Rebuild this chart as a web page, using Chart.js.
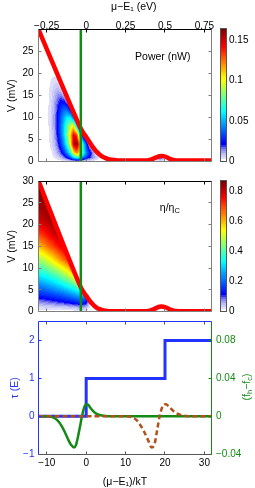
<!DOCTYPE html>
<html>
<head>
<meta charset="utf-8">
<script src="https://cdn.jsdelivr.net/npm/chart.js@4.4.1/dist/chart.umd.min.js"></script>
<style>
  html, body { margin: 0; padding: 0; background: #fff; }
  #wrap { position: relative; width: 255px; height: 488px; }
  canvas { position: absolute; left: 0; top: 0; }
</style>
</head>
<body>
<div id="wrap">
  <canvas id="cPower" width="255" height="488"></canvas>
  <canvas id="cEff" width="255" height="488"></canvas>
  <canvas id="cTrans" width="255" height="488"></canvas>
</div>
<script>
// axes: mu - E1 in eV on top, in units of kT on the bottom panel
const kT = 0.025;
const muMin = -0.3025, muMax = 0.795;
const muTicks = [-0.25, 0, 0.25, 0.5, 0.75];
const vPowerMax = 29.9, vEffMax = 30;
const vPowerTicks = [0, 5, 10, 15, 20, 25];
const vEffTicks = [0, 5, 10, 15, 20, 25, 30];
const greenMu = -0.034;

// red curve (stopping voltage) in the two map panels
const vocPowerMu = [-0.3025, -0.06, -0.04, -0.02, 0.0, 0.02, 0.04, 0.06, 0.08, 0.10, 0.12, 0.14, 0.16, 0.20, 0.25, 0.35, 0.39, 0.41, 0.43, 0.45, 0.465, 0.478, 0.49, 0.51, 0.53, 0.55, 0.57, 0.62, 0.795];
const vocPowerV = [29.9, 9.5, 7.9, 6.6, 5.6, 4.5, 3.4, 2.5, 1.8, 1.2, 0.85, 0.6, 0.45, 0.3, 0.25, 0.25, 0.3, 0.45, 0.75, 1.05, 1.25, 1.3, 1.25, 1.0, 0.65, 0.4, 0.28, 0.25, 0.25];
const vocEffMu = [-0.3025, -0.06, -0.045, -0.032, -0.015, 0.004, 0.025, 0.046, 0.065, 0.088, 0.11, 0.131, 0.17, 0.25, 0.38, 0.41, 0.43, 0.45, 0.465, 0.478, 0.49, 0.51, 0.53, 0.55, 0.57, 0.62, 0.795];
const vocEffV = [30, 7.75, 6.5, 5.45, 4.4, 3.45, 2.4, 1.54, 0.95, 0.55, 0.3, 0.16, 0.1, 0.1, 0.12, 0.3, 0.6, 0.95, 1.15, 1.2, 1.15, 0.9, 0.55, 0.3, 0.15, 0.1, 0.1];

// power map (nW), one column per mu, rows at powerV
const powerMu = [-0.26, -0.24, -0.22, -0.20, -0.18, -0.16, -0.14, -0.12, -0.10, -0.08, -0.06, -0.04, -0.02, 0.00, 0.02, 0.04, 0.06, 0.08, 0.10, 0.12, 0.43, 0.47, 0.51];
const powerV = [0, 1, 2, 4, 6, 8, 10, 12, 14, 16, 18, 20, 22, 24];
const powerCols = [
  [0, 0.0001, 0.0003, 0.0005, 0.0006, 0.0007, 0.0008, 0.0008, 0.0008, 0.0007, 0.0006, 0.0005, 0.0003, 0.0001],
  [0, 0.0005, 0.0009, 0.0016, 0.0021, 0.0024, 0.0025, 0.0025, 0.0023, 0.0020, 0.0016, 0.0011, 0.0006, 0.0001],
  [0, 0.0012, 0.0022, 0.0039, 0.0051, 0.0058, 0.0060, 0.0058, 0.0052, 0.0043, 0.0031, 0.0017, 0.0005, 0],
  [0, 0.0029, 0.0053, 0.0091, 0.0117, 0.0130, 0.0131, 0.0122, 0.0105, 0.0078, 0.0047, 0.0015, 0, 0],
  [0, 0.0056, 0.0105, 0.0177, 0.0222, 0.0241, 0.0237, 0.0208, 0.0165, 0.0105, 0.0044, 0, 0, 0],
  [0, 0.0098, 0.0184, 0.0305, 0.0374, 0.0391, 0.0363, 0.0297, 0.0204, 0.0090, 0, 0, 0, 0],
  [0, 0.0155, 0.0288, 0.0472, 0.0561, 0.0567, 0.0495, 0.0362, 0.0184, 0.0012, 0, 0, 0, 0],
  [0, 0.0243, 0.0443, 0.0702, 0.0810, 0.0761, 0.0599, 0.0340, 0.0065, 0, 0, 0, 0, 0],
  [0, 0.0374, 0.0660, 0.1010, 0.1095, 0.0935, 0.0594, 0.0154, 0, 0, 0, 0, 0, 0],
  [0, 0.0590, 0.1040, 0.1500, 0.1470, 0.1050, 0.0370, 0, 0, 0, 0, 0, 0, 0],
  [0, 0.0720, 0.1210, 0.1630, 0.1350, 0.0600, 0, 0, 0, 0, 0, 0, 0, 0],
  [0, 0.0650, 0.1040, 0.1220, 0.0710, 0, 0, 0, 0, 0, 0, 0, 0, 0],
  [0, 0.0440, 0.0690, 0.0650, 0.0140, 0, 0, 0, 0, 0, 0, 0, 0, 0],
  [0, 0.0300, 0.0440, 0.0310, 0, 0, 0, 0, 0, 0, 0, 0, 0, 0],
  [0, 0.0220, 0.0280, 0.0070, 0, 0, 0, 0, 0, 0, 0, 0, 0, 0],
  [0, 0.0144, 0.0144, 0, 0, 0, 0, 0, 0, 0, 0, 0, 0, 0],
  [0, 0.0090, 0.0043, 0, 0, 0, 0, 0, 0, 0, 0, 0, 0, 0],
  [0, 0.0037, 0, 0, 0, 0, 0, 0, 0, 0, 0, 0, 0, 0],
  [0, 0.0008, 0, 0, 0, 0, 0, 0, 0, 0, 0, 0, 0, 0],
  [0, 0, 0, 0, 0, 0, 0, 0, 0, 0, 0, 0, 0, 0],
  [0, 0, 0, 0, 0, 0, 0, 0, 0, 0, 0, 0, 0, 0],
  [0, 0.0250, 0, 0, 0, 0, 0, 0, 0, 0, 0, 0, 0, 0],
  [0, 0, 0, 0, 0, 0, 0, 0, 0, 0, 0, 0, 0, 0]
];
const powerMax = 0.164;
const powerBarTicks = [0, 0.05, 0.1, 0.15];

// efficiency map (eta / eta_C)
const effMu = [-0.31, -0.27, -0.24, -0.21, -0.18, -0.15, -0.12, -0.09, -0.06, -0.03, 0.00, 0.03];
const effV = [0, 1, 2, 4, 6, 9, 12, 15, 18, 21, 24, 27, 30];
const effCols = [
  [0, 0.027, 0.063, 0.146, 0.220, 0.340, 0.454, 0.586, 0.697, 0.780, 0.827, 0.846, 0.865],
  [0, 0.028, 0.069, 0.155, 0.235, 0.359, 0.486, 0.626, 0.731, 0.806, 0.836, 0.857, 0.865],
  [0, 0.030, 0.076, 0.165, 0.251, 0.381, 0.521, 0.664, 0.764, 0.825, 0.846, 0.865, 0.865],
  [0, 0.032, 0.083, 0.176, 0.269, 0.406, 0.560, 0.698, 0.792, 0.835, 0.858, 0.865, 0.865],
  [0, 0.034, 0.091, 0.188, 0.290, 0.436, 0.606, 0.738, 0.822, 0.846, 0.865, 0.865, 0.865],
  [0, 0.037, 0.100, 0.202, 0.313, 0.474, 0.655, 0.775, 0.833, 0.860, 0.865, 0.865, 0.865],
  [0, 0.040, 0.110, 0.221, 0.340, 0.520, 0.698, 0.811, 0.846, 0.865, 0.865, 0.865, 0.865],
  [0, 0.047, 0.120, 0.243, 0.370, 0.574, 0.748, 0.830, 0.862, 0.865, 0.865, 0.865, 0.865],
  [0, 0.054, 0.132, 0.268, 0.405, 0.637, 0.791, 0.846, 0.865, 0.865, 0.865, 0.865, 0.865],
  [0, 0.062, 0.144, 0.295, 0.443, 0.687, 0.824, 0.860, 0.865, 0.865, 0.865, 0.865, 0.865],
  [0, 0.050, 0.115, 0.240, 0.360, 0.500, 0.600, 0.620, 0.620, 0.620, 0.620, 0.620, 0.620],
  [0, 0, 0, 0, 0, 0, 0, 0, 0, 0, 0, 0, 0]
];
const effMax = 0.865;
const effBarTicks = [0, 0.2, 0.4, 0.6, 0.8];

// bottom panel, energy in kT
const eTicks = [-10, 0, 10, 20, 30];
const tauTicks = [-1, 0, 1, 2];
const dfTicks = [-0.04, 0, 0.04, 0.08];
const tauE = [-12.1, 0, 20, 31.8];
const tauVal = [0, 1, 2, 2];
const dfE = [-12.1, -10, -8.7, -7.4, -6.1, -5.3, -4.5, -3.8, -3.1, -2.6, -1.9, -1.5, -1.1, -0.6, -0.1, 0.4, 1.0, 1.6, 2.3, 3.0, 4.0, 5.0, 6.5, 31.8];
const dfVal = [0, -0.0001, -0.0007, -0.004, -0.0113, -0.018, -0.0253, -0.0306, -0.033, -0.0306, -0.018, -0.0095, -0.0007, 0.0081, 0.0124, 0.0125, 0.0092, 0.0062, 0.0035, 0.0018, 0.0007, 0.0002, 0, 0];
const df2E = [-12.1, 10, 11.1, 12.8, 14.5, 15.7, 16.6, 17.4, 18.0, 18.7, 19.4, 20.2, 21.2, 22.5, 24.2, 26, 31.8];
const df2Val = [0, 0, -0.0005, -0.0042, -0.0148, -0.0253, -0.033, -0.0288, -0.0148, 0.001, 0.0105, 0.0127, 0.0092, 0.0042, 0.0011, 0, 0];

// white-to-jet colour map
const cmapStops = [0, 0.01, 0.05, 0.09, 0.125, 0.375, 0.625, 0.875, 1];
const cmapRGB = [[255,255,255],[228,228,251],[185,185,247],[120,120,245],[0,0,255],[0,255,255],[255,255,0],[255,0,0],[128,0,0]];

const fontFam = "'Liberation Sans', Arial, sans-serif";
Chart.defaults.font.family = fontFam;
Chart.defaults.font.size = 10;
Chart.defaults.color = '#000';

const RED = '#ff0000', GREEN = '#138a13', BLUE = '#2233ff', BROWN = '#b0501a', GREY = '#7f7f7f';

const fmt = v => (v < 0 ? '\u2212' : '') + String(Math.round(Math.abs(v) * 1000) / 1000);
const pts = (xs, ys) => xs.map((x, i) => ({ x, y: ys[i] }));
const setTicks = arr => s => { s.ticks = arr.map(value => ({ value })); };

function cmap(f) {
  f = Math.max(0, Math.min(1, f));
  f = Math.min(63, Math.floor(f * 64)) / 63;
  let k = 0;
  while (k < cmapStops.length - 2 && f > cmapStops[k + 1]) k++;
  const t = (f - cmapStops[k]) / (cmapStops[k + 1] - cmapStops[k]);
  const a = cmapRGB[k], b = cmapRGB[k + 1];
  return [0, 1, 2].map(i => Math.round(a[i] + (b[i] - a[i]) * t));
}

function sampleGrid(xs, ys, cols, x, y) {
  if (x < xs[0] || x > xs[xs.length - 1] || y < ys[0] || y > ys[ys.length - 1]) return 0;
  let i = 0; while (i < xs.length - 2 && x > xs[i + 1]) i++;
  let j = 0; while (j < ys.length - 2 && y > ys[j + 1]) j++;
  const tx = (x - xs[i]) / (xs[i + 1] - xs[i]);
  const ty = (y - ys[j]) / (ys[j + 1] - ys[j]);
  const a = cols[i][j], b = cols[i + 1][j], c = cols[i][j + 1], d = cols[i + 1][j + 1];
  return (a * (1 - tx) + b * tx) * (1 - ty) + (c * (1 - tx) + d * tx) * ty;
}

// draws the map under the red curve
function heatmap(xs, ys, cols, max, curveIndex) {
  return {
    id: 'heat',
    beforeDatasetsDraw(chart) {
      const { ctx, chartArea: a, scales } = chart;
      const left = Math.floor(a.left), top = Math.floor(a.top);
      const w = Math.ceil(a.right) - left, h = Math.ceil(a.bottom) - top;
      const off = document.createElement('canvas');
      off.width = w; off.height = h;
      const octx = off.getContext('2d');
      const img = octx.createImageData(w, h);
      for (let j = 0; j < h; j++) {
        const v = scales.y.getValueForPixel(top + j + 0.5);
        for (let i = 0; i < w; i++) {
          const m = scales.x.getValueForPixel(left + i + 0.5);
          const val = sampleGrid(xs, ys, cols, m, v);
          if (!(val > 0)) continue;
          const c = cmap(val / max);
          const k = 4 * (j * w + i);
          img.data[k] = c[0]; img.data[k + 1] = c[1]; img.data[k + 2] = c[2]; img.data[k + 3] = 255;
        }
      }
      octx.putImageData(img, 0, 0);
      const curve = chart.getDatasetMeta(curveIndex).data;
      ctx.save();
      ctx.beginPath();
      ctx.rect(a.left, a.top, a.right - a.left, a.bottom - a.top);
      ctx.clip();
      ctx.beginPath();
      ctx.moveTo(a.left, a.bottom);
      curve.forEach(p => ctx.lineTo(p.x, p.y));
      ctx.lineTo(a.right, a.bottom);
      ctx.closePath();
      ctx.clip();
      ctx.drawImage(off, left, top);
      ctx.restore();
    }
  };
}

function colorbar(max, ticks) {
  return {
    id: 'colorbar',
    afterDraw(chart) {
      const { ctx, chartArea: a } = chart;
      const x0 = 221, w = 5;
      const top = Math.floor(a.top), bot = Math.floor(a.bottom);
      for (let r = top; r < bot; r++) {
        const f = 1 - (r + 0.5 - top) / (bot - top);
        ctx.fillStyle = 'rgb(' + cmap(f).join(',') + ')';
        ctx.fillRect(x0, r, w, 1);
      }
      ctx.strokeStyle = '#555';
      ctx.lineWidth = 1;
      ctx.strokeRect(x0 - 0.5, top - 0.5, w + 1, bot - top + 1);
      ctx.fillStyle = '#000';
      ctx.font = '10px ' + fontFam;
      ctx.textAlign = 'left';
      ctx.textBaseline = 'middle';
      ticks.forEach(t => ctx.fillText(fmt(t), 229, bot - (t / max) * (bot - top)));
    }
  };
}

// box and inward tick marks
function frame(sides, tickSpecs) {
  const snap = v => Math.floor(v) + 0.5;
  return {
    id: 'frame',
    afterDraw(chart) {
      const { ctx, chartArea: a } = chart;
      const L = snap(a.left), R = snap(a.right), T = snap(a.top), B = snap(a.bottom);
      ctx.save();
      ctx.lineWidth = 1;
      tickSpecs.forEach(([id, color, where]) => {
        const sc = chart.scales[id];
        ctx.strokeStyle = color;
        ctx.beginPath();
        sc.ticks.forEach(t => {
          const p = snap(sc.getPixelForValue(t.value));
          where.forEach(side => {
            if (side === 'top') { ctx.moveTo(p, T); ctx.lineTo(p, T + 3); }
            if (side === 'bottom') { ctx.moveTo(p, B); ctx.lineTo(p, B - 3); }
            if (side === 'left') { ctx.moveTo(L, p); ctx.lineTo(L + 3, p); }
            if (side === 'right') { ctx.moveTo(R, p); ctx.lineTo(R - 3, p); }
          });
        });
        ctx.stroke();
      });
      const edges = { top: [L, T, R, T], bottom: [L, B, R, B], left: [L, T, L, B], right: [R, T, R, B] };
      ['bottom', 'right', 'left', 'top'].forEach(k => {
        if (!sides[k]) return;
        const e = edges[k];
        ctx.strokeStyle = sides[k];
        ctx.beginPath(); ctx.moveTo(e[0], e[1]); ctx.lineTo(e[2], e[3]); ctx.stroke();
      });
      ctx.restore();
    }
  };
}

// text made of pieces: [text, size, dy]
function richText(ctx, parts, x, y, rot, color) {
  ctx.save();
  ctx.translate(x, y);
  ctx.rotate(rot);
  ctx.fillStyle = color;
  ctx.textBaseline = 'middle';
  ctx.textAlign = 'left';
  let total = 0;
  parts.forEach(p => { ctx.font = p[1] + 'px ' + fontFam; total += ctx.measureText(p[0]).width; });
  let cx = -total / 2;
  parts.forEach(p => {
    ctx.font = p[1] + 'px ' + fontFam;
    ctx.fillText(p[0], cx, p[2]);
    cx += ctx.measureText(p[0]).width;
  });
  ctx.restore();
}

function mapLabel(mu, v, parts) {
  return {
    id: 'maplabel',
    afterDraw(chart) {
      const { ctx, scales } = chart;
      let x = scales.x.getPixelForValue(mu);
      const y = scales.y.getPixelForValue(v);
      ctx.save();
      ctx.fillStyle = '#000';
      ctx.textBaseline = 'middle';
      parts.forEach(p => {
        ctx.font = p[1] + 'px ' + fontFam;
        ctx.fillText(p[0], x, y + p[2]);
        x += ctx.measureText(p[0]).width;
      });
      ctx.restore();
    }
  };
}

const noGrid = { display: false, drawTicks: false };
const noBorder = { display: false };

function mapChart(id, padTop, padBottom, vMax, vTicks, showTop, curveMu, curveV, xs, ys, cols, max, barTicks, label) {
  const xScale = {
    type: 'linear', min: muMin, max: muMax,
    position: showTop ? 'top' : 'bottom',
    afterBuildTicks: setTicks(muTicks),
    afterFit: s => { s.height = showTop ? 29.5 : 0; },
    grid: noGrid, border: noBorder,
    ticks: { display: showTop, padding: -3, maxRotation: 0, callback: fmt },
    title: { display: showTop, text: '      μ\u2212E\u2081 (eV)', font: { size: 10.5 }, padding: { top: 1, bottom: 0 } }
  };
  return new Chart(document.getElementById(id), {
    type: 'scatter',
    data: {
      datasets: [
        { data: [{ x: greenMu, y: 0 }, { x: greenMu, y: vMax }], showLine: true, borderColor: GREEN, borderWidth: 2.5, pointRadius: 0, clip: 0 },
        { data: pts(curveMu, curveV), showLine: true, borderColor: RED, borderWidth: 4.5, pointRadius: 0, cubicInterpolationMode: 'monotone', clip: 0 }
      ]
    },
    options: {
      responsive: false, animation: false, events: [],
      layout: { padding: { left: 0, right: 43.5, top: padTop, bottom: padBottom } },
      plugins: { legend: { display: false }, tooltip: { enabled: false } },
      scales: {
        x: xScale,
        y: {
          type: 'linear', min: 0, max: vMax,
          afterBuildTicks: setTicks(vTicks),
          afterFit: s => { s.width = 38.5; },
          grid: noGrid, border: noBorder,
          ticks: { padding: 5, callback: fmt },
          title: { display: true, text: 'V (mV)', font: { size: 10.5 }, padding: { top: 6, bottom: 0 } }
        }
      }
    },
    plugins: [
      heatmap(xs, ys, cols, max, 1),
      frame({ top: '#000', bottom: GREY, left: GREY, right: GREY },
            [['x', '#000', ['top']], ['x', GREY, ['bottom']], ['y', GREY, ['left', 'right']]]),
      colorbar(max, barTicks),
      label
    ]
  });
}

mapChart('cPower', 0, 488 - 161.7, vPowerMax, vPowerTicks, true, vocPowerMu, vocPowerV,
  powerMu, powerV, powerCols, powerMax, powerBarTicks,
  mapLabel(0.31, 23.6, [['Power (nW)', 10.5, 0]]));

mapChart('cEff', 181, 488 - 311.7, vEffMax, vEffTicks, false, vocEffMu, vocEffV,
  effMu, effV, effCols, effMax, effBarTicks,
  mapLabel(0.467, 23.8, [['η/η', 10.5, 0], ['C', 7.5, 3]]));

// bottom panel: transmission and occupation difference
new Chart(document.getElementById('cTrans'), {
  type: 'scatter',
  data: {
    datasets: [
      { data: pts(df2E, df2Val), yAxisID: 'y2', showLine: true, borderColor: BROWN, borderWidth: 2.5, borderDash: [5, 3], pointRadius: 0, cubicInterpolationMode: 'monotone', clip: 0 },
      { data: pts(dfE, dfVal), yAxisID: 'y2', showLine: true, borderColor: GREEN, borderWidth: 2.5, pointRadius: 0, cubicInterpolationMode: 'monotone', clip: 0 },
      { data: pts(tauE, tauVal), yAxisID: 'y', showLine: true, borderColor: BLUE, borderWidth: 3, pointRadius: 0, stepped: 'before', clip: 0 }
    ]
  },
  options: {
    responsive: false, animation: false, events: [],
    layout: { padding: { left: 0, right: 0, top: 321.7, bottom: 0 } },
    plugins: { legend: { display: false }, tooltip: { enabled: false } },
    scales: {
      x: {
        type: 'linear', position: 'bottom', min: muMin / kT, max: muMax / kT,
        afterBuildTicks: setTicks(eTicks),
        afterFit: s => { s.height = 34; },
        grid: noGrid, border: noBorder,
        ticks: { padding: 3, maxRotation: 0, callback: fmt },
        title: { display: true, text: '(μ\u2212E\u2081)/kT', font: { size: 10.5 }, padding: { top: 4, bottom: 0 } }
      },
      y: {
        type: 'linear', position: 'left', min: -1, max: 2.5,
        afterBuildTicks: setTicks(tauTicks),
        afterFit: s => { s.width = 38.5; },
        grid: noGrid, border: noBorder,
        ticks: { padding: 4, color: BLUE, callback: fmt },
        title: { display: true, text: 'τ (E)', color: BLUE, font: { size: 10.5 }, padding: { top: 9, bottom: 0 } }
      },
      y2: {
        type: 'linear', position: 'right', min: -0.04, max: 0.1,
        afterBuildTicks: setTicks(dfTicks),
        afterFit: s => { s.width = 43.5; },
        grid: noGrid, border: noBorder,
        ticks: { padding: 4.5, color: GREEN, callback: fmt }
      }
    }
  },
  plugins: [
    frame({ top: BLUE, bottom: '#555', left: BLUE, right: GREEN },
          [['x', '#555', ['top', 'bottom']], ['y', BLUE, ['left']], ['y2', GREEN, ['right']]]),
    {
      id: 'rightTitle',
      afterDraw(chart) {
        richText(chart.ctx, [['(f', 10.5, 0], ['h', 7.5, 3], ['\u2212f', 10.5, 0], ['c', 7.5, 3], [')', 10.5, 0]],
          247, 387, -Math.PI / 2, GREEN);
      }
    }
  ]
});
</script>
</body>
</html>
